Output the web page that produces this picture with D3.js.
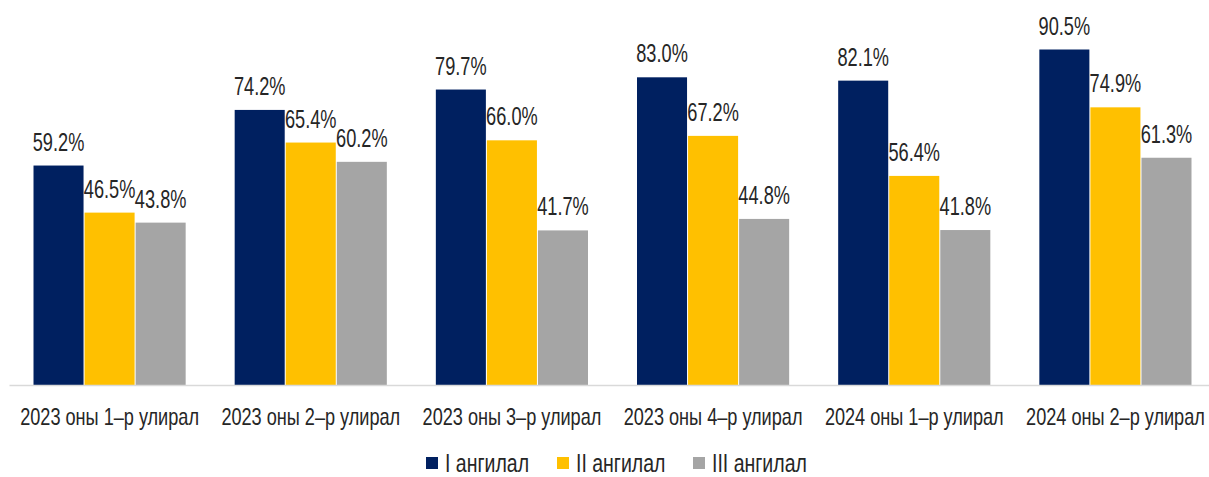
<!DOCTYPE html>
<html>
<head>
<meta charset="utf-8">
<script src="https://cdn.jsdelivr.net/npm/d3@7"></script>
<style>
  body { margin: 0; background: #fff; overflow: hidden; }
  text { font-family: "Liberation Sans", Arial, sans-serif; fill: #262626; }
</style>
</head>
<body>
<svg></svg>
<script>
const categories = [
  "2023 оны 1-р улирал",
  "2023 оны 2-р улирал",
  "2023 оны 3-р улирал",
  "2023 оны 4-р улирал",
  "2024 оны 1-р улирал",
  "2024 оны 2-р улирал",
];
const seriesNames = ["I ангилал", "II ангилал", "III ангилал"];
const seriesI = [59.2, 74.2, 79.7, 83.0, 82.1, 90.5];
const seriesII = [46.5, 65.4, 66.0, 67.2, 56.4, 74.9];
const seriesIII = [43.8, 60.2, 41.7, 44.8, 41.8, 61.3];
const colors = ["#002060", "#FFC000", "#A5A5A5"];

const width = 1209;
const height = 477;
const left = 9;
const right = 1216; // last band runs a bit past the window edge
const baseline = 385;
const svg = d3.select("svg").attr("width", width).attr("height", height);

// narrow text: no condensed font installed, so squeeze horizontally
const narrow = (sel, sx, px, py) => {
  sel.attr("x", 0).attr("y", 0)
    .attr("transform", (d, i, n) => "translate(" + px(d, i, n) + "," + py(d, i, n) + ") scale(" + sx + ",1)");
};

const allSeries = [seriesI, seriesII, seriesIII];
const rows = categories.map((c, i) => ({
  cat: c,
  vals: allSeries.map((s, k) => ({ key: seriesNames[k], v: s[i], k: k })),
}));

const x0 = d3.scaleBand().domain(categories).range([left, right]);
const x1 = d3.scaleBand().domain(seriesNames).range([0, x0.bandwidth()]).paddingInner(0.02).paddingOuter(0.48);
const y = d3.scaleLinear().domain([0, 90.5]).range([baseline, 49.5]);

// bars
const groups = svg.selectAll("g.grp")
  .data(rows)
  .enter()
  .append("g")
  .attr("class", "grp")
  .attr("transform", (d) => "translate(" + x0(d.cat) + ",0)");

groups.selectAll("rect")
  .data((d) => d.vals)
  .enter()
  .append("rect")
  .attr("x", (d) => x1(d.key))
  .attr("y", (d) => y(d.v))
  .attr("width", x1.bandwidth())
  .attr("height", (d) => baseline - y(d.v))
  .attr("fill", (d) => colors[d.k]);

// value labels
const vals = groups.selectAll("text.val")
  .data((d) => d.vals)
  .enter()
  .append("text")
  .attr("class", "val")
  .attr("text-anchor", "middle")
  .style("font-size", "26px")
  .text((d) => d.v.toFixed(1) + "%");
narrow(vals, 0.7, (d) => x1(d.key) + x1.bandwidth() / 2, (d) => y(d.v) - 15);

// axis
const xAxis = d3.axisBottom(x0).tickSize(0).tickPadding(0).tickFormat((d) => d.replace("-", "–"));
const ax = svg.append("g")
  .attr("transform", "translate(0," + baseline + ")")
  .call(xAxis);
ax.select(".domain").attr("stroke", "#d9d9d9").attr("stroke-width", 1.5);
const ticks = ax.selectAll(".tick text")
  .attr("fill", "#262626")
  .attr("dy", null)
  .style("font-size", "24px")
  .style("font-family", null);
narrow(ticks, 0.755, () => 0, () => 39.5);

// legend
const legendX = [426, 557, 693];
const legend = svg.selectAll("g.leg")
  .data(seriesNames)
  .enter()
  .append("g")
  .attr("class", "leg")
  .attr("transform", (d, i) => "translate(" + legendX[i] + ",457)");
legend.append("rect").attr("width", 12).attr("height", 12).attr("fill", (d, i) => colors[i]);
const legText = legend.append("text")
  .style("font-size", "25px")
  .text((d) => d);
narrow(legText, 0.78, () => 19, () => 15);
</script>
</body>
</html>
